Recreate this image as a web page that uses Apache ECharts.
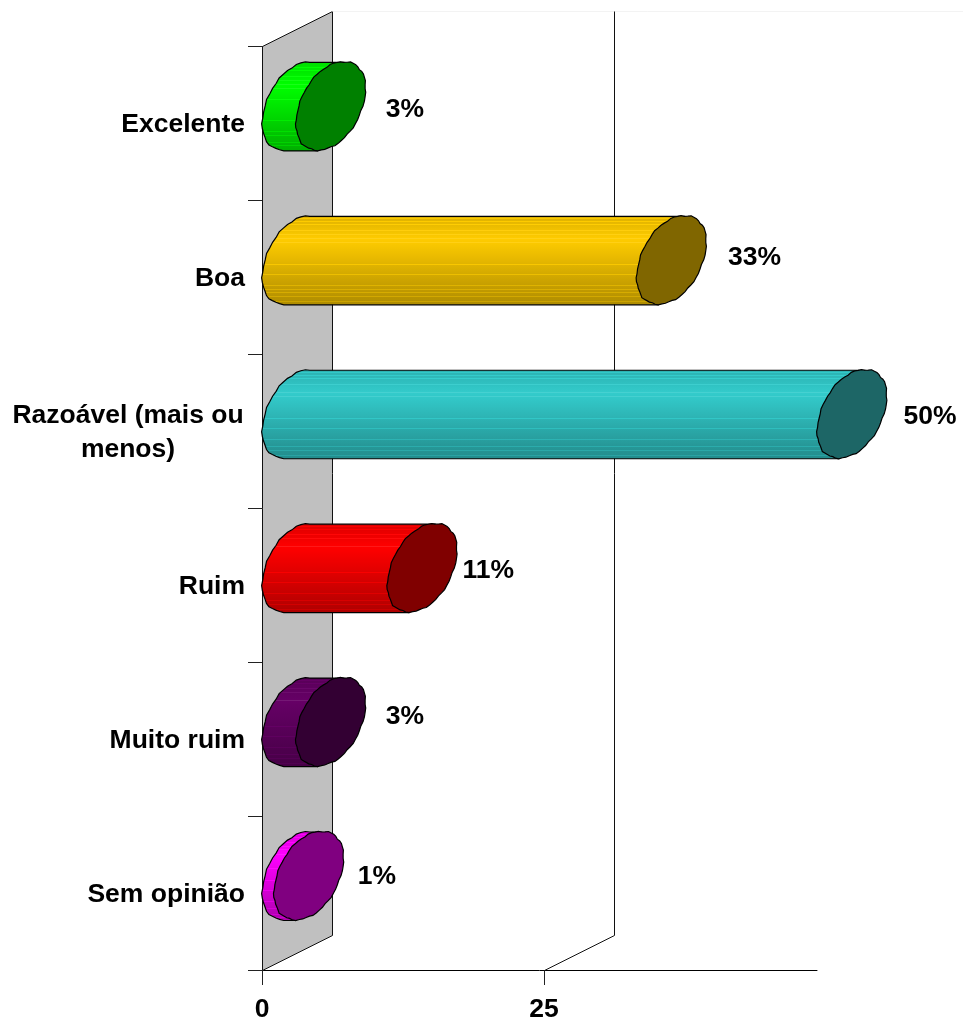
<!DOCTYPE html>
<html><head><meta charset="utf-8">
<style>html,body{margin:0;padding:0;background:#fff}#c{width:963px;height:1021px}</style>
<script src="https://cdn.jsdelivr.net/npm/echarts@6/dist/echarts.min.js"></script>
</head><body><div id="c"></div>
<script>
const categories = ['Excelente','Boa','Razoável (mais ou\nmenos)','Ruim','Muito ruim','Sem opinião'];
const values = [3.0, 33.2, 49.2, 11.1, 3.0, 1.05];
const percentLabels = ['3%','33%','50%','11%','3%','1%'];
const xTicks = [0, 25];
const bodyColors = ['#00ff00','#ffcc00','#33cccc','#ff0000','#660066','#ff00ff'];
const capColors = ['#008000','#806600','#1d6666','#800000','#330033','#800080'];
const labelGap = [39, 48, 43, 31, 39, 33];
const labelShift = [3, -3, 2, 2, -6, 0];

const DX = 70, DY = 35, FONT = '"Liberation Sans", Arial, sans-serif';
const stripes = [0.04, 0.07, 0.1, 0.13, 0.17, 0.21, 0.26, 0.3, 0.42, 0.55, 0.66, 0.78, 0.82, 0.86, 0.9, 0.93, 0.96];

function mix(hex, f) {
  const n = parseInt(hex.slice(1), 16);
  const t = f > 1 ? 255 : 0, a = f > 1 ? f - 1 : 1 - f;
  const ch = s => Math.round(((n >> s) & 255) * (1 - a) + t * a);
  return `rgb(${ch(16)},${ch(8)},${ch(0)})`;
}
function shade(p) {
  return p < 0.27 ? 0.86 + 0.14 * p / 0.27 : 1 - 0.32 * (p - 0.27) / 0.73;
}
function gradient(color) {
  const stops = [];
  const add = (p, c) => stops.push({offset: Math.min(1, Math.max(0, p)), color: c});
  let last = 0;
  stripes.forEach(s => {
    const lit = mix(color, Math.min(1.1, shade(s) + 0.1));
    add(last, mix(color, shade(last)));
    add(s - 0.004, mix(color, shade(s)));
    add(s - 0.004, lit);
    add(s + 0.004, lit);
    last = s + 0.004;
  });
  add(last, mix(color, shade(last)));
  add(1, mix(color, shade(1)));
  return {type: 'linear', x: 0, y: 0, x2: 0, y2: 1, colorStops: stops};
}
function rim(cx, cy, halfH, t) {
  const c = Math.cos(t), s = Math.sin(t);
  const C = Math.sign(c) * Math.pow(Math.abs(c), 0.96);
  const S = Math.sign(s) * Math.pow(Math.abs(s), 0.96);
  const r = 1 + 0.012 * Math.sin(11 * t) + 0.008 * Math.sin(23 * t + 1);
  return [cx + r * (32 * C + 13 * S), cy - r * halfH * S];
}
function arc(cx, cy, halfH, from, to, n) {
  const out = [];
  for (let i = 0; i <= n; i++) out.push(rim(cx, cy, halfH, from + (to - from) * i / n));
  return out;
}

const chart = echarts.init(document.getElementById('c'), null, {renderer: 'canvas'});
chart.setOption({
  animation: false,
  backgroundColor: '#fff',
  grid: {left: 262, width: 555, top: 46.5, bottom: 51, containLabel: false, outerBoundsMode: 'none'},
  xAxis: {
    type: 'value', min: 0, max: 49.2, interval: 25,
    splitLine: {show: false},
    axisLine: {show: true, onZero: false, lineStyle: {color: '#000', width: 1}},
    axisTick: {show: true, length: 15, customValues: xTicks, lineStyle: {color: '#222', width: 1}},
    axisLabel: {customValues: xTicks, color: '#000', fontFamily: FONT, fontWeight: 'bold', fontSize: 26.5, margin: 26}
  },
  yAxis: {
    type: 'category', inverse: true, data: categories,
    axisLine: {show: true, lineStyle: {color: '#111', width: 1}},
    axisTick: {show: true, length: 14, alignWithLabel: false, lineStyle: {color: '#222', width: 1}},
    axisLabel: {
      margin: 17, color: '#000', fontFamily: FONT, fontWeight: 'bold', fontSize: 26.5, lineHeight: 34,
      padding: [3, 0, 0, 0],
      formatter: v => v.indexOf('\n') < 0 ? v : v.split('\n').map(l => `{c|${l}}`).join('\n'),
      rich: {c: {width: 234, align: 'center', color: '#000', fontFamily: FONT, fontWeight: 'bold', fontSize: 26.5, lineHeight: 34}}
    }
  },
  series: [
    {
      type: 'custom', coordinateSystem: 'cartesian2d', z: 1, silent: true, clip: false,
      encode: {x: 0, y: 1},
      data: xTicks.map(v => [v, categories[0]]),
      renderItem(params, api) {
        const x = Math.round(api.coord([api.value(0), 0])[0]) + 0.5;
        const top = Math.round(params.coordSys.y) - 0.5;
        const bottom = Math.round(params.coordSys.y + params.coordSys.height) + 0.5;
        const line = {stroke: '#111', lineWidth: 1, fill: null};
        if (api.value(0) === 0) {
          return {type: 'group', children: [
            {type: 'polygon', shape: {points: [[x, top], [x + DX, top - DY], [x + DX, bottom - DY], [x, bottom]]},
             style: {fill: '#c0c0c0', stroke: '#111', lineWidth: 1}},
            {type: 'line', shape: {x1: x + DX, y1: top - DY, x2: 963, y2: top - DY},
             style: {stroke: '#f3f3f3', lineWidth: 1}}
          ]};
        }
        return {type: 'polyline', shape: {points: [[x, bottom], [x + DX, bottom - DY], [x + DX, top - DY]]}, style: line};
      }
    },
    {
      type: 'custom', coordinateSystem: 'cartesian2d', z: 3, silent: true, clip: false,
      encode: {x: 0, y: 1},
      data: values.map((v, i) => [v, i]),
      renderItem(params, api) {
        const i = params.dataIndex;
        const end = api.coord([api.value(0), api.value(1)]);
        const start = api.coord([0, api.value(1)]);
        const band = api.size([0, 1])[1];
        const halfH = band * 0.2875, cy = end[1] - DY / 2;
        const backX = start[0] + DX / 2, capX = end[0] + DX / 2;
        const halfPi = Math.PI / 2;
        const back = arc(backX, cy, halfH, halfPi, 3 * halfPi, 24);
        const body = back.concat([rim(capX, cy, halfH, 3 * halfPi), rim(capX, cy, halfH, halfPi)]);
        const cap = arc(capX, cy, halfH, 0, 2 * Math.PI, 64);
        return {type: 'group', children: [
          {type: 'polygon', shape: {points: body},
           style: {fill: gradient(bodyColors[i]), stroke: '#000', lineWidth: 1.2}},
          {type: 'polygon', shape: {points: cap},
           style: {fill: capColors[i], stroke: '#000', lineWidth: 1.2}},
          {type: 'text', style: {
            text: percentLabels[i], x: capX + DX / 2 + labelGap[i], y: cy + labelShift[i] + 1,
            align: 'center', verticalAlign: 'middle', fill: '#000',
            font: `bold 26.5px ${FONT}`
          }}
        ]};
      }
    }
  ]
});
</script></body></html>
